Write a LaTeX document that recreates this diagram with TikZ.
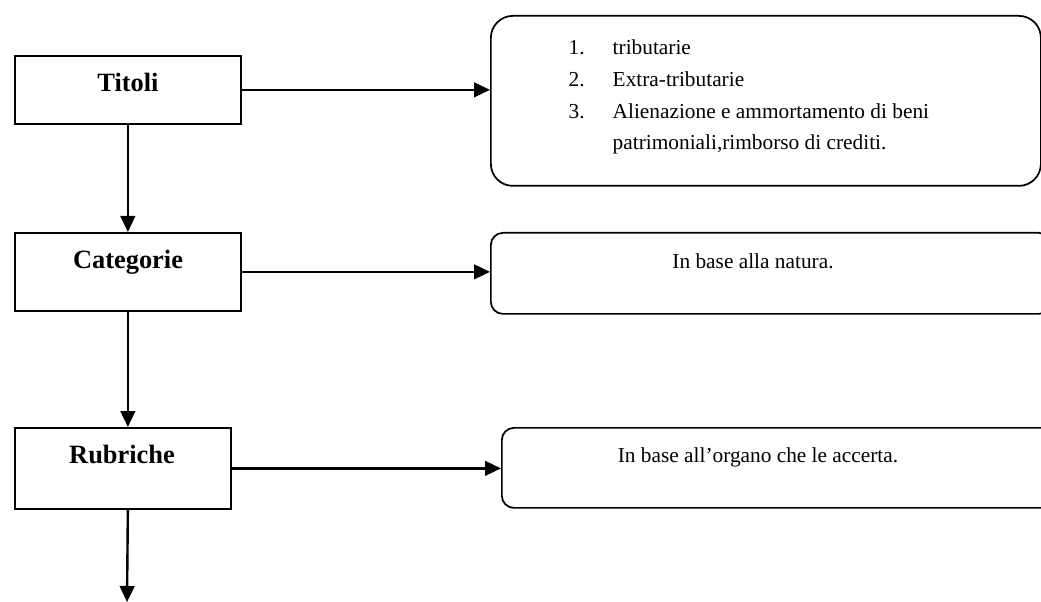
\documentclass[tikz,border=0pt]{standalone}
\usepackage{fontspec}
\setmainfont{Liberation Serif}
\usetikzlibrary{arrows.meta}
\begin{document}
\begin{tikzpicture}[x=0.75pt,y=-0.75pt,
  flow/.style={-{Triangle[length=12pt,width=11pt]}, line width=1.8pt},
  levelbox/.style={draw, line width=1.3pt, inner sep=0pt, anchor=north west},
  notebox/.style={draw, line width=1.3pt, inner sep=0pt, anchor=north west},
  heading/.style={anchor=base, font=\fontsize{19.8}{24}\selectfont\bfseries},
  bodytext/.style={font=\fontsize{16}{19}\selectfont},
]
\useasboundingbox (0,0) rectangle (1041,602);
\clip (0,0) rectangle (1041,602);

% level boxes on the left
\node[levelbox, minimum width=169.5pt, minimum height=51pt] (titoli) at (14,55) {};
\node[levelbox, minimum width=169.5pt, minimum height=58.5pt] (categorie) at (14,232) {};
\node[levelbox, minimum width=162pt, minimum height=60.75pt] (rubriche) at (14,427) {};

\node[heading] at (128,92) {Titoli};
\node[heading] at (128,268) {Categorie};
\node[heading] at (122,463) {Rubriche};

% description boxes on the right
\node[notebox, rounded corners=16.5pt, minimum width=412.5pt, minimum height=127.5pt] (elenco) at (490,15) {};
\node[notebox, rounded corners=9pt, minimum width=420pt, minimum height=60.75pt] (natura) at (490,232) {};
\node[notebox, rounded corners=9pt, minimum width=420pt, minimum height=60pt] (organo) at (501,427) {};

% numbered list
\node[bodytext, anchor=base west] at (564,55) {1.};
\node[bodytext, anchor=base west] at (564,87) {2.};
\node[bodytext, anchor=base west] at (564,119) {3.};
\node[bodytext, anchor=base west] at (608,55) {tributarie};
\node[bodytext, anchor=base west] at (608,87) {Extra-tributarie};
\node[bodytext, anchor=base west] at (608,119) {Alienazione e ammortamento di beni};
\node[bodytext, anchor=base west] at (608,150) {patrimoniali,rimborso di crediti.};

\node[bodytext, anchor=base] at (753,268) {In base alla natura.};
\node[bodytext, anchor=base] at (758,462) {In base all’organo che le accerta.};

% connectors
\draw[flow] (titoli.east) -- (elenco.west |- titoli.east);
\draw[flow] (categorie.east) -- (natura.west |- categorie.east);
\draw[flow] (rubriche.east) -- (organo.west |- rubriche.east);

\draw[flow] (titoli.south) -- (categorie.north);
\draw[flow] (categorie.south) -- (categorie.south |- rubriche.north);
\coordinate (seguito) at (127,602);
\draw[flow] (rubriche.south -| categorie.south) -- (seguito);
\end{tikzpicture}
\end{document}
